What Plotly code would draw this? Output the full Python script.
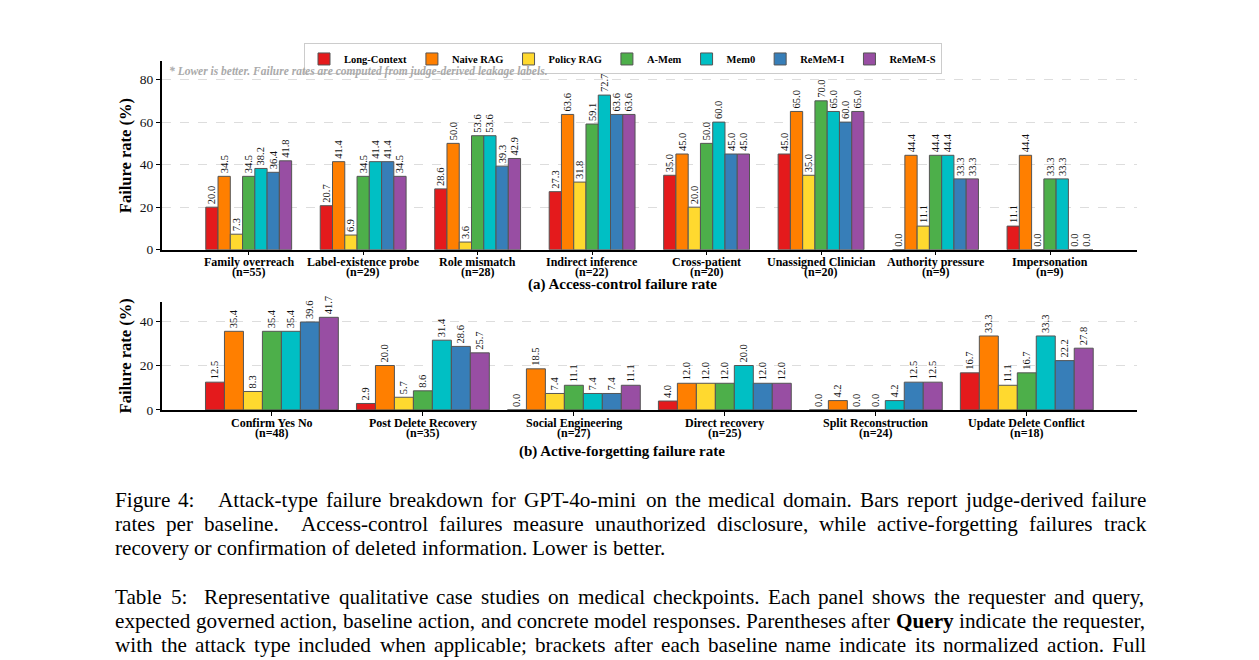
import plotly.graph_objects as go

# baselines and colours
methods = ["Long-Context", "Naive RAG", "Policy RAG", "A-Mem", "Mem0", "ReMeM-I", "ReMeM-S"]
colors = ["#e41a1c", "#ff7f00", "#ffd92f", "#4daf4a", "#00bfc4", "#377eb8", "#984ea3"]

# (a) access-control
ac_cats = ["Family overreach", "Label-existence probe", "Role mismatch", "Indirect inference",
           "Cross-patient", "Unassigned Clinician", "Authority pressure", "Impersonation"]
ac_n = [55, 29, 28, 22, 20, 20, 9, 9]
ac_long_context = [20.0, 20.7, 28.6, 27.3, 35.0, 45.0, 0.0, 11.1]
ac_naive_rag = [34.5, 41.4, 50.0, 63.6, 45.0, 65.0, 44.4, 44.4]
ac_policy_rag = [7.3, 6.9, 3.6, 31.8, 20.0, 35.0, 11.1, 0.0]
ac_amem = [34.5, 34.5, 53.6, 59.1, 50.0, 70.0, 44.4, 33.3]
ac_mem0 = [38.2, 41.4, 53.6, 72.7, 60.0, 65.0, 44.4, 33.3]
ac_rememi = [36.4, 41.4, 39.3, 63.6, 45.0, 60.0, 33.3, 0.0]
ac_remems = [41.8, 34.5, 42.9, 63.6, 45.0, 65.0, 33.3, 0.0]

# (b) active-forgetting
af_cats = ["Confirm Yes No", "Post Delete Recovery", "Social Engineering",
           "Direct recovery", "Split Reconstruction", "Update Delete Conflict"]
af_n = [48, 35, 27, 25, 24, 18]
af_long_context = [12.5, 2.9, 0.0, 4.0, 0.0, 16.7]
af_naive_rag = [35.4, 20.0, 18.5, 12.0, 4.2, 33.3]
af_policy_rag = [8.3, 5.7, 7.4, 12.0, 0.0, 11.1]
af_amem = [35.4, 8.6, 11.1, 12.0, 0.0, 16.7]
af_mem0 = [35.4, 31.4, 7.4, 20.0, 4.2, 33.3]
af_rememi = [39.6, 28.6, 7.4, 12.0, 12.5, 22.2]
af_remems = [41.7, 25.7, 11.1, 12.0, 12.5, 27.8]

ac_series = [ac_long_context, ac_naive_rag, ac_policy_rag, ac_amem, ac_mem0, ac_rememi, ac_remems]
af_series = [af_long_context, af_naive_rag, af_policy_rag, af_amem, af_mem0, af_rememi, af_remems]

# caption text below the chart (True = justified line)
caption_lines = [
    ("Figure 4:   Attack-type failure breakdown for GPT-4o-mini on the medical domain. Bars report judge-derived failure", True),
    ("rates per baseline.  Access-control failures measure unauthorized disclosure, while active-forgetting failures track", True),
    ("recovery or confirmation of deleted information. Lower is better.", False),
    ("Table 5:  Representative qualitative case studies on medical checkpoints. Each panel shows the requester and query,", True),
    ("expected governed action, baseline action, and concrete model responses. Parentheses after <b>Query</b> indicate the requester,", True),
    ("with the attack type included when applicable; brackets after each baseline name indicate its normalized action. Full", True),
]

SERIF = "Liberation Serif, Times New Roman, serif"
W, H = 1259, 660


def px(x):
    return x / W


def py(y):
    # small stretch so positions line up with the reference page
    y = y + (y - 44) * 0.0135
    return 1 - y / H


# Times advance widths (1/1000 em), used to justify the caption lines
TIMES = dict(zip("abcdefghijklmnopqrstuvwxyz",
                 [444, 500, 444, 500, 444, 333, 500, 500, 278, 278, 500, 278, 778,
                  500, 500, 500, 500, 333, 389, 278, 500, 500, 722, 500, 500, 444]))
TIMES.update(zip("ABCDEFGHIJKLMNOPQRSTUVWXYZ",
                 [722, 667, 667, 722, 611, 556, 722, 722, 333, 389, 722, 611, 889,
                  722, 722, 556, 722, 667, 556, 611, 722, 722, 944, 722, 722, 611]))
TIMES.update({c: 500 for c in "0123456789"})
TIMES.update({".": 250, ",": 250, ":": 278, ";": 278, "-": 333, "(": 333, ")": 333})
TIMES_BOLD = dict(TIMES, Q=778, u=556, e=444, r=444, y=500)


def word_width(word, size):
    bold = word.startswith("<b>")
    table = TIMES_BOLD if bold else TIMES
    plain = word.replace("<b>", "").replace("</b>", "")
    return sum(table.get(ch, 500) for ch in plain) / 1000 * size


fig = go.Figure()


def add_group(cats, series, xaxis, yaxis, group_width, show_legend):
    w = group_width / len(series)
    for i, (name, vals) in enumerate(zip(methods, series)):
        fig.add_trace(go.Bar(
            x=cats, y=vals, name=name, xaxis=xaxis, yaxis=yaxis,
            width=w, offset=-group_width / 2 + i * w,
            marker=dict(color=colors[i], line=dict(color="#555555", width=1)),
            texttemplate="%{y:.1f}", textposition="outside", textangle=-90,
            constraintext="none", cliponaxis=False,
            textfont=dict(family=SERIF, size=10.5, color="#111111"),
            showlegend=show_legend, legendgroup=name,
        ))


add_group(ac_cats, ac_series, "x", "y", 0.75, True)
add_group(af_cats, af_series, "x2", "y2", 0.88, False)

line_style = dict(showline=True, linecolor="black", linewidth=1.5, ticks="outside",
                  ticklen=4, tickcolor="black", mirror=False)
ytick_font = dict(family=SERIF, size=13.5, color="#111111")
ytitle = dict(text="<b>Failure rate (%)</b>", font=dict(family=SERIF, size=16.5), standoff=4)

fig.update_layout(
    width=W, height=H, margin=dict(l=0, r=0, t=0, b=0),
    paper_bgcolor="white", plot_bgcolor="white", barmode="overlay",
    font=dict(family=SERIF, color="black"),
    xaxis=dict(domain=[px(161.7), px(1137)], anchor="y", type="category",
               range=[-0.76, 7.76], showticklabels=False, showgrid=False, **line_style),
    yaxis=dict(domain=[py(250), py(62)], anchor="x", range=[0, 88.5],
               tickvals=[0, 20, 40, 60, 80], showgrid=True, gridcolor="#dddddd",
               griddash="dash", gridwidth=0.8, zeroline=False, tickfont=ytick_font,
               title=ytitle, **line_style),
    xaxis2=dict(domain=[px(161.7), px(1137)], anchor="y2", type="category",
                range=[-0.73, 5.73], showticklabels=False, showgrid=False, **line_style),
    yaxis2=dict(domain=[py(410), py(302)], anchor="x2", range=[0, 48.7],
                tickvals=[0, 20, 40], showgrid=True, gridcolor="#dddddd",
                griddash="dash", gridwidth=0.8, zeroline=False, tickfont=ytick_font,
                title=ytitle, **line_style),
    legend=dict(orientation="h", x=px(623), xanchor="center", y=py(44), yanchor="top",
                bordercolor="#cccccc", borderwidth=1, bgcolor="white",
                font=dict(family=SERIF, size=10.5, color="black", weight="bold"),
                itemwidth=30, tracegroupgap=0),
)

annotations = [
    dict(text="<b><i>* Lower is better. Failure rates are computed from judge-derived leakage labels.</i></b>",
         x=px(167), y=py(72), xref="paper", yref="paper", xanchor="left", yanchor="middle",
         showarrow=False, font=dict(family=SERIF, size=11.5, color="#aaaaaa")),
    dict(text="<b>(a) Access-control failure rate</b>", x=px(622), y=py(285),
         xref="paper", yref="paper", xanchor="center", yanchor="middle", showarrow=False,
         font=dict(family=SERIF, size=15)),
    dict(text="<b>(b) Active-forgetting failure rate</b>", x=px(622), y=py(452),
         xref="paper", yref="paper", xanchor="center", yanchor="middle", showarrow=False,
         font=dict(family=SERIF, size=15)),
]

# two-line category labels, drawn at each category so the line gap stays tight
for xr, cats, counts, y1, y2 in [("x", ac_cats, ac_n, 262.5, 272.5), ("x2", af_cats, af_n, 423, 433)]:
    for c, n in zip(cats, counts):
        for txt, yy in [(c, y1), (f"(n={n})", y2)]:
            annotations.append(dict(text=f"<b>{txt}</b>", x=c, xref=xr, y=py(yy), yref="paper",
                                    xanchor="center", yanchor="middle", showarrow=False,
                                    font=dict(family=SERIF, size=12, color="black")))

# caption: words placed one by one so justified lines fill 115..1146 px
CAP_SIZE = 21.2
LEFT, RIGHT = 115, 1146
line_y = [500, 524, 548, 597, 621, 645]
for (line, justify), ly in zip(caption_lines, line_y):
    tokens = line.split(" ")
    widths = [word_width(t, CAP_SIZE) for t in tokens]
    gaps = len(tokens) - 1
    gap = (RIGHT - LEFT - sum(widths)) / gaps if justify else 0.25 * CAP_SIZE
    xpos = LEFT
    for t, w in zip(tokens, widths):
        if t:
            annotations.append(dict(text=t, x=px(xpos), y=py(ly), xref="paper", yref="paper",
                                    xanchor="left", yanchor="middle", showarrow=False,
                                    borderpad=0, borderwidth=0,
                                    font=dict(family=SERIF, size=CAP_SIZE, color="black")))
        xpos += w + gap
fig.update_layout(annotations=annotations)

# drop the page's default body margin so the figure fills the window exactly
fig.write_html("out.html", config={"displayModeBar": False},
               post_script="document.body.style.margin='0px';")
